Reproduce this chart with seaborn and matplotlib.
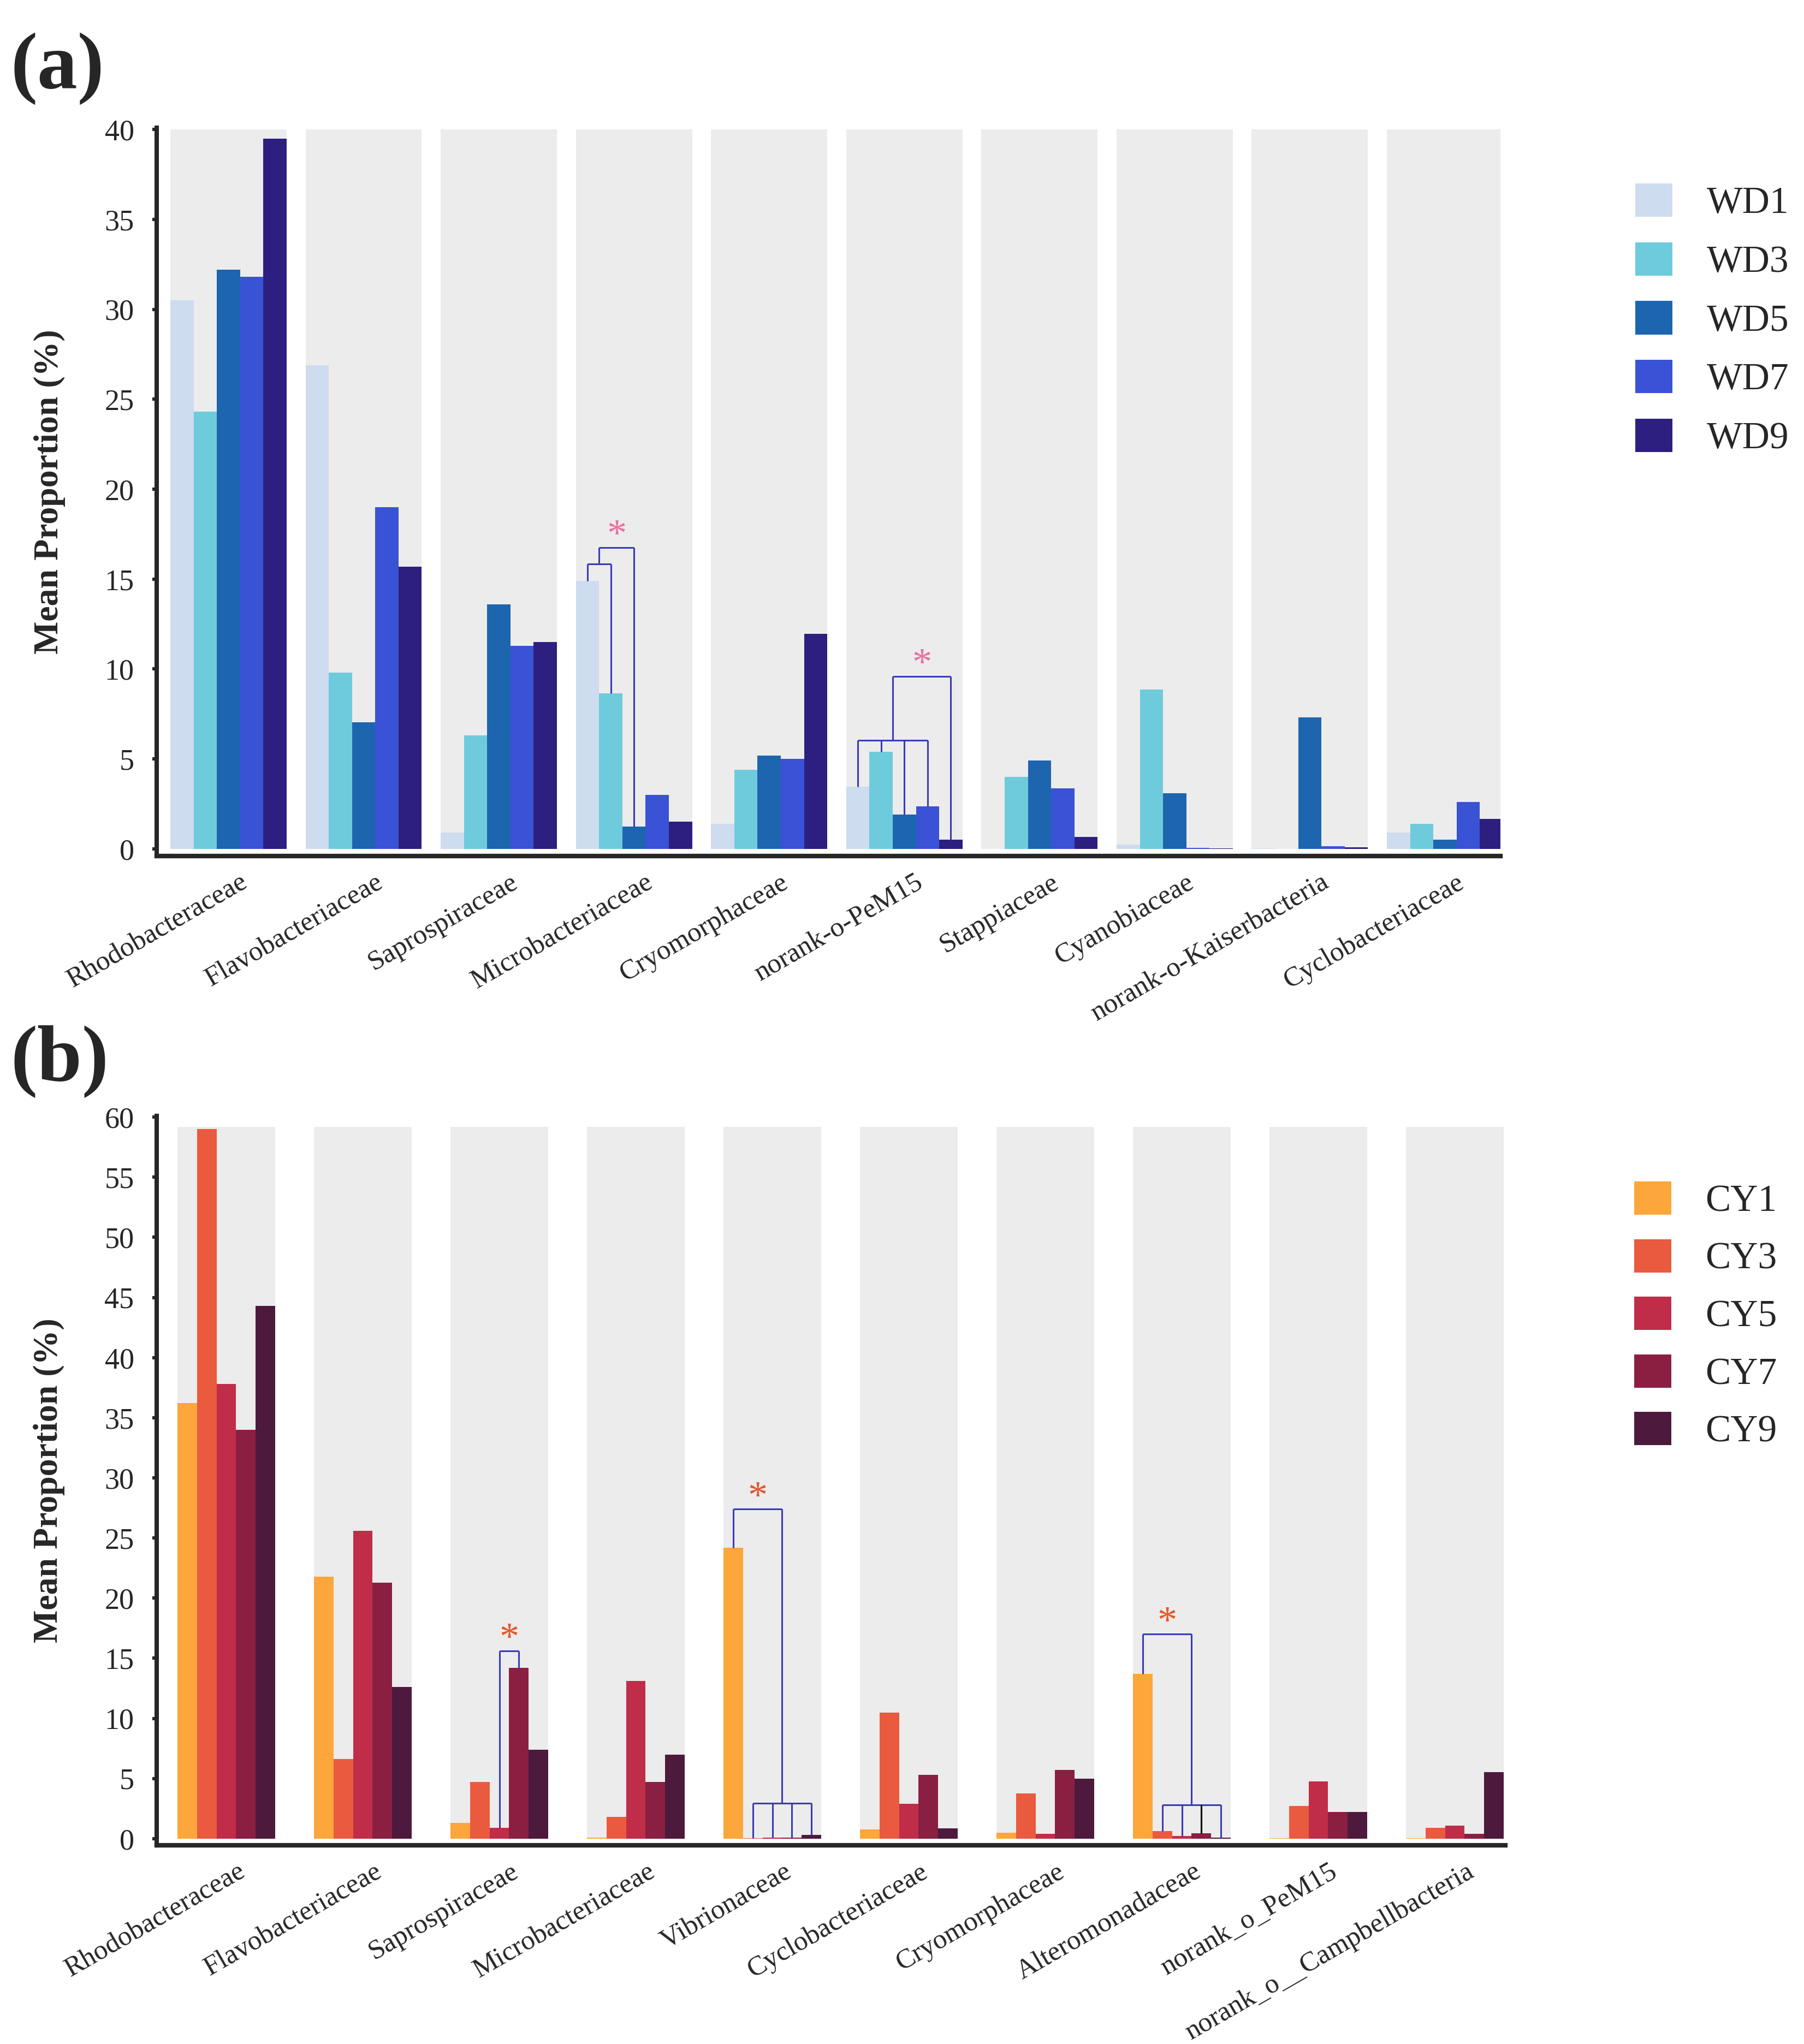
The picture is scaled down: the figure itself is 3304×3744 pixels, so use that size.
import numpy as np
import pandas as pd
import matplotlib
matplotlib.use("Agg")
import matplotlib.pyplot as plt
import seaborn as sns
from matplotlib.transforms import ScaledTranslation

# ---------------- data ----------------
families_a = ["Rhodobacteraceae", "Flavobacteriaceae", "Saprospiraceae", "Microbacteriaceae",
              "Cryomorphaceae", "norank-o-PeM15", "Stappiaceae", "Cyanobiaceae",
              "norank-o-Kaiserbacteria", "Cyclobacteriaceae"]
groups_a = ["WD1", "WD3", "WD5", "WD7", "WD9"]
wd1 = [30.5, 26.9, 0.9, 14.9, 1.4, 3.45, 0.0, 0.25, 0.02, 0.9]
wd3 = [24.3, 9.8, 6.3, 8.65, 4.4, 5.4, 4.0, 8.85, 0.0, 1.4]
wd5 = [32.2, 7.05, 13.6, 1.25, 5.2, 1.9, 4.9, 3.1, 7.3, 0.5]
wd7 = [31.8, 19.0, 11.3, 3.0, 5.0, 2.35, 3.35, 0.05, 0.15, 2.6]
wd9 = [39.5, 15.7, 11.5, 1.5, 11.95, 0.5, 0.65, 0.02, 0.1, 1.65]
colors_a = ["#cddcee", "#6ecbdc", "#1e65b0", "#3a52d6", "#2c1f7f"]

families_b = ["Rhodobacteraceae", "Flavobacteriaceae", "Saprospiraceae", "Microbacteriaceae",
              "Vibrionaceae", "Cyclobacteriaceae", "Cryomorphaceae", "Alteromonadaceae",
              "norank_o_PeM15", "norank_o__Campbellbacteria"]
groups_b = ["CY1", "CY3", "CY5", "CY7", "CY9"]
cy1 = [36.2, 21.8, 1.3, 0.1, 24.2, 0.75, 0.5, 13.7, 0.05, 0.05]
cy3 = [59.0, 6.6, 4.7, 1.8, 0.05, 10.5, 3.75, 0.65, 2.7, 0.9]
cy5 = [37.8, 25.6, 0.9, 13.1, 0.1, 2.9, 0.4, 0.2, 4.75, 1.1]
cy7 = [34.0, 21.3, 14.2, 4.7, 0.1, 5.3, 5.7, 0.45, 2.2, 0.4]
cy9 = [44.3, 12.6, 7.4, 7.0, 0.3, 0.85, 5.0, 0.1, 2.2, 5.55]
colors_b = ["#fca63b", "#ea5a3f", "#c02d48", "#8a1f42", "#4d1a3d"]

yticks_a = list(range(0, 41, 5))
yticks_b = list(range(0, 61, 5))
band_top_a = 40.0
band_top_b = 59.2

# ---------------- style ----------------
sns.set_style("ticks")
plt.rcParams["font.family"] = ["Liberation Serif", "DejaVu Serif"]

W, H, DPI = 3304, 3744, 200
fig = plt.figure(figsize=(W / DPI, H / DPI), dpi=DPI)

BR_COLOR = "#3b3bb8"
BR_LW = 1.1


def make_df(fams, groups, series):
    rows = []
    for g, vals in zip(groups, series):
        for f, v in zip(fams, vals):
            rows.append({"family": f, "group": g, "value": v})
    return pd.DataFrame(rows)


def xpos(i, j, w):
    return i - w / 2 + (j + 0.5) * w / 5


def draw_panel(rect, fams, groups, series, colors, w, band_top, ylim, xlim, yticks):
    ax = fig.add_axes(rect)
    df = make_df(fams, groups, series)
    sns.barplot(data=df, x="family", y="value", hue="group", order=fams, hue_order=groups,
                palette=colors, width=w, gap=0, saturation=1, linewidth=0, errorbar=None,
                ax=ax, zorder=2)
    n = len(fams)
    ax.bar(np.arange(n), [band_top] * n, width=w, color="#ececec", zorder=0.5, linewidth=0)
    ax.set_xlim(*xlim)
    ax.set_ylim(*ylim)
    ax.set_yticks(yticks)
    ax.set_yticklabels([str(t) for t in yticks], fontsize=19.5)
    ax.set_xlabel("")
    ax.set_ylabel("Mean Proportion (%)", fontsize=23, fontweight="bold")
    ax.yaxis.set_label_coords(-0.068, 0.5)
    for s in ["top", "right"]:
        ax.spines[s].set_visible(False)
    ax.spines["left"].set_linewidth(2.9)
    ax.spines["bottom"].set_linewidth(3.0)
    ax.tick_params(axis="y", length=2.9, width=2.2, pad=12, direction="out")
    ax.tick_params(axis="x", length=0, pad=9)
    ax.set_xticks(np.arange(n))
    ax.set_xticklabels(fams, rotation=30, ha="right", rotation_mode="anchor", fontsize=18.3)
    off = ScaledTranslation(0.10, 0, fig.dpi_scale_trans)
    for lab in ax.get_xticklabels():
        lab.set_transform(lab.get_transform() + off)
    return ax


def hline_bracket(ax, xs, tops, level, colors=None):
    xs = list(xs)
    ax.plot([xs[0], xs[-1]], [level, level], color=BR_COLOR, lw=BR_LW, zorder=5,
            solid_capstyle="butt")
    for k, (x, t) in enumerate(zip(xs, tops)):
        c = BR_COLOR if colors is None else colors[k]
        ax.plot([x, x], [t, level], color=c, lw=BR_LW, zorder=5, solid_capstyle="butt")


def star(ax, x, level, color):
    ax.annotate("*", xy=(x, level), xytext=(0, 1), textcoords="offset points",
                ha="center", va="baseline", fontsize=26, color=color, zorder=6)


# ---------------- panel (a) ----------------
wa = 0.86
ax_a = draw_panel([287 / W, 1 - 1568 / H, (2748 - 287) / W, (1568 - 234) / H],
                  families_a, groups_a, [wd1, wd3, wd5, wd7, wd9], colors_a, wa,
                  band_top_a, (-0.4, 40.1), (-0.531, 9.41), yticks_a)
series_a = [wd1, wd3, wd5, wd7, wd9]
# Microbacteriaceae
i = 3
x0, x1, x2 = xpos(i, 0, wa), xpos(i, 1, wa), xpos(i, 2, wa)
hline_bracket(ax_a, [x0, x1], [wd1[i], wd3[i]], 15.85)
xm = (x0 + x1) / 2
hline_bracket(ax_a, [xm, x2], [15.85, wd5[i]], 16.75)
star(ax_a, (xm + x2) / 2, 16.75, "#e9719f")
# norank-o-PeM15
i = 5
xs = [xpos(i, j, wa) for j in range(4)]
hline_bracket(ax_a, xs, [series_a[j][i] for j in range(4)], 6.05)
xm = (xs[0] + xs[-1]) / 2
x4 = xpos(i, 4, wa)
hline_bracket(ax_a, [xm, x4], [6.05, wd9[i]], 9.6)
star(ax_a, (xm + x4) / 2, 9.6, "#e9719f")

sns.move_legend(ax_a, loc="upper left", bbox_to_anchor=(2995 / W, 1 - 336 / H),
                bbox_transform=fig.transFigure, frameon=False, title=None, fontsize=25,
                handlelength=0.98, handleheight=0.98, handletextpad=0.9,
                labelspacing=0.55, borderpad=0, borderaxespad=0)

# ---------------- panel (b) ----------------
wb = 0.716
ax_b = draw_panel([287 / W, 1 - 3380 / H, (2757 - 287) / W, (3380 - 2044) / H],
                  families_b, groups_b, [cy1, cy3, cy5, cy7, cy9], colors_b, wb,
                  band_top_b, (-0.55, 60.1), (-0.51, 9.37), yticks_b)
series_b = [cy1, cy3, cy5, cy7, cy9]
# Saprospiraceae
i = 2
xa, xb = xpos(i, 2, wb), xpos(i, 3, wb)
hline_bracket(ax_b, [xa, xb], [cy5[i], cy7[i]], 15.6)
star(ax_b, (xa + xb) / 2, 15.6, "#e05a2b")
# Vibrionaceae
i = 4
xs = [xpos(i, j, wb) for j in range(1, 5)]
hline_bracket(ax_b, xs, [series_b[j][i] for j in range(1, 5)], 2.95)
xm = (xs[0] + xs[-1]) / 2
x0 = xpos(i, 0, wb)
hline_bracket(ax_b, [x0, xm], [cy1[i], 2.95], 27.4)
star(ax_b, (x0 + xm) / 2, 27.4, "#e05a2b")
# Alteromonadaceae
i = 7
xs = [xpos(i, j, wb) for j in range(1, 5)]
hline_bracket(ax_b, xs, [series_b[j][i] for j in range(1, 5)], 2.8,
              colors=[BR_COLOR, BR_COLOR, "black", BR_COLOR])
xm = (xs[0] + xs[-1]) / 2
x0 = xpos(i, 0, wb)
hline_bracket(ax_b, [x0, xm], [cy1[i], 2.8], 17.0)
star(ax_b, (x0 + xm) / 2, 17.0, "#e05a2b")

sns.move_legend(ax_b, loc="upper left", bbox_to_anchor=(2993 / W, 1 - 2164 / H),
                bbox_transform=fig.transFigure, frameon=False, title=None, fontsize=25,
                handlelength=0.98, handleheight=0.98, handletextpad=0.9,
                labelspacing=0.52, borderpad=0, borderaxespad=0)

# panel labels
fig.text(19 / W, 1 - 125 / H, "(a)", fontsize=53, fontweight="bold", ha="left", va="center")
fig.text(19 / W, 1 - 1944 / H, "(b)", fontsize=53, fontweight="bold", ha="left", va="center")

fig.savefig("out.png", dpi=DPI, facecolor="white")
